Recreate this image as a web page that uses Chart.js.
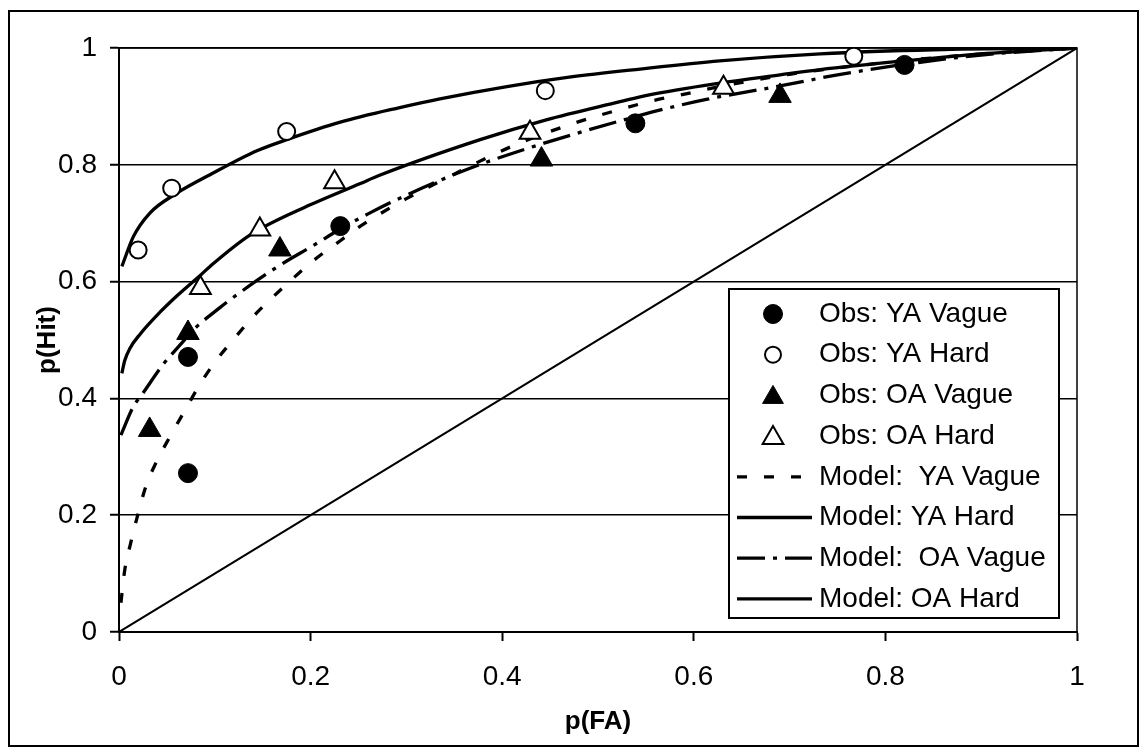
<!DOCTYPE html>
<html>
<head>
<meta charset="utf-8">
<script src="https://cdn.jsdelivr.net/npm/chart.js@4/dist/chart.umd.min.js"></script>
<style>
    html, body { margin: 0; padding: 0; background: #fff; }
    #wrap { position: relative; width: 1141px; height: 750px; }
    #frame { position: absolute; left: 8px; top: 10px; width: 1127px; height: 733px;
             border: 2px solid #000; pointer-events: none; }
</style>
</head>
<body>
<div id="wrap">
    <canvas id="chart"></canvas>
    <div id="frame"></div>
</div>
<script>
// Tick values
const xTicks = [0, 0.2, 0.4, 0.6, 0.8, 1];
const yTicks = [0, 0.2, 0.4, 0.6, 0.8, 1];

// Observed points [p(FA), p(Hit)]
const obsYAVague = [[0.072, 0.272], [0.072, 0.471], [0.231, 0.695], [0.539, 0.871], [0.820, 0.971]];
const obsYAHard  = [[0.020, 0.654], [0.055, 0.760], [0.175, 0.857], [0.445, 0.927], [0.767, 0.986]];
const obsOAVague = [[0.032, 0.346], [0.072, 0.512], [0.168, 0.655], [0.441, 0.809], [0.690, 0.918]];
const obsOAHard  = [[0.085, 0.589], [0.147, 0.689], [0.225, 0.770], [0.429, 0.855], [0.631, 0.932]];

// Model curves
const modelYAVague = [[0.002, 0.05], [0.006, 0.106], [0.012, 0.151], [0.020, 0.203], [0.028, 0.249],
    [0.039, 0.291], [0.053, 0.334], [0.069, 0.380], [0.083, 0.420], [0.100, 0.462], [0.119, 0.500],
    [0.140, 0.540], [0.161, 0.574], [0.182, 0.606], [0.203, 0.636], [0.231, 0.670], [0.252, 0.695],
    [0.300, 0.742], [0.350, 0.784], [0.384, 0.812], [0.415, 0.835], [0.471, 0.869], [0.530, 0.898],
    [0.558, 0.910], [0.593, 0.922], [0.627, 0.934], [0.700, 0.955], [0.800, 0.975], [0.900, 0.990], [1, 1]];
const modelYAHard = [[0.003, 0.626], [0.015, 0.677], [0.032, 0.717], [0.060, 0.751], [0.095, 0.783],
    [0.144, 0.824], [0.175, 0.843], [0.231, 0.873], [0.293, 0.898], [0.335, 0.913], [0.405, 0.934],
    [0.470, 0.950], [0.544, 0.964], [0.627, 0.978], [0.732, 0.990], [0.850, 0.997], [1, 1]];
const modelOAVague = [[0.002, 0.337], [0.015, 0.386], [0.025, 0.409], [0.046, 0.458], [0.064, 0.492],
    [0.078, 0.518], [0.105, 0.555], [0.126, 0.581], [0.165, 0.625], [0.203, 0.662], [0.231, 0.690],
    [0.260, 0.716], [0.300, 0.748], [0.363, 0.792], [0.415, 0.822], [0.474, 0.852], [0.527, 0.877],
    [0.558, 0.891], [0.613, 0.912], [0.690, 0.935], [0.750, 0.954], [0.820, 0.972], [0.900, 0.988], [1, 1]];
const modelOAHard = [[0.003, 0.443], [0.006, 0.465], [0.0115, 0.486], [0.022, 0.510], [0.043, 0.548],
    [0.060, 0.575], [0.085, 0.611], [0.095, 0.626], [0.137, 0.680], [0.199, 0.731], [0.252, 0.768],
    [0.272, 0.782], [0.377, 0.843], [0.446, 0.877], [0.523, 0.908], [0.551, 0.919], [0.627, 0.940],
    [0.690, 0.954], [0.732, 0.963], [0.820, 0.978], [0.900, 0.990], [1, 1]];
const chanceLine = [[0, 0], [1, 1]];

const FONT = '"Liberation Sans", Arial, sans-serif';

function pts(arr) {
    return arr.map(p => ({ x: p[0], y: p[1] }));
}

function obsSet(label, arr, style, filled, radius) {
    return {
        label: label,
        data: pts(arr),
        showLine: false,
        pointStyle: style,
        pointRadius: radius,
        pointBackgroundColor: filled ? '#000' : '#fff',
        pointBorderColor: '#000',
        pointBorderWidth: filled ? 1 : 2,
        order: 1
    };
}

function modelSet(label, arr, dash, width) {
    return {
        label: label,
        data: pts(arr),
        showLine: true,
        borderColor: '#000',
        borderWidth: width,
        borderDash: dash,
        pointRadius: 0,
        cubicInterpolationMode: 'monotone',
        order: 2
    };
}

const datasets = [
    obsSet('Obs: YA Vague', obsYAVague, 'circle', true, 9.5),
    obsSet('Obs: YA Hard', obsYAHard, 'circle', false, 8.5),
    obsSet('Obs: OA Vague', obsOAVague, 'triangle', true, 13),
    obsSet('Obs: OA Hard', obsOAHard, 'triangle', false, 12),
    modelSet('Model:  YA Vague', modelYAVague, [10, 17], 3.3),
    modelSet('Model: YA Hard', modelYAHard, [], 3.3),
    modelSet('Model:  OA Vague', modelOAVague, [28, 8, 4, 8], 3.3),
    modelSet('Model: OA Hard', modelOAHard, [], 3.3),
    Object.assign(modelSet('', chanceLine, [], 2), { cubicInterpolationMode: 'default', order: 3 })
];

// Box around plot area (right edge shows)
const plotBorder = {
    id: 'plotBorder',
    beforeDatasetsDraw(chart) {
        const { ctx, chartArea: a } = chart;
        ctx.save();
        ctx.strokeStyle = '#000';
        ctx.lineWidth = 1.5;
        ctx.strokeRect(a.left, a.top, a.right - a.left, a.bottom - a.top);
        ctx.restore();
    }
};

// Legend box drawn inside the plot area
const insideLegend = {
    id: 'insideLegend',
    afterDatasetsDraw(chart) {
        const { ctx, chartArea: a } = chart;
        const bx = a.right - 348, by = a.top + 241, bw = 330, bh = 329;
        ctx.save();
        ctx.fillStyle = '#fff';
        ctx.fillRect(bx, by, bw, bh);
        ctx.strokeStyle = '#000';
        ctx.lineWidth = 2;
        ctx.strokeRect(bx, by, bw, bh);

        const items = chart.data.datasets.filter(d => d.label);
        items.forEach((d, i) => {
            const y = by + 25 + i * 40.7;
            ctx.save();
            if (d.showLine) {
                ctx.strokeStyle = '#000';
                ctx.lineWidth = d.borderWidth;
                ctx.setLineDash(d.borderDash);
                ctx.beginPath();
                ctx.moveTo(bx + 8, y);
                ctx.lineTo(bx + 83, y);
                ctx.stroke();
            } else {
                ctx.fillStyle = d.pointBackgroundColor;
                ctx.strokeStyle = d.pointBorderColor;
                ctx.lineWidth = d.pointBorderWidth;
                const r = d.pointStyle === 'triangle' ? 12 : (d.pointBackgroundColor === '#000' ? 9.5 : 8);
                Chart.helpers.drawPoint(ctx, {
                    pointStyle: d.pointStyle, radius: r, rotation: 0, borderWidth: d.pointBorderWidth
                }, bx + 44, d.pointStyle === 'triangle' ? y + 2 : y);
            }
            ctx.restore();
            ctx.fillStyle = '#000';
            ctx.font = '28px ' + FONT;
            ctx.textBaseline = 'middle';
            ctx.textAlign = 'left';
            ctx.fillText(d.label, bx + 90, y);
        });
        ctx.restore();
    }
};

new Chart(document.getElementById('chart'), {
    type: 'scatter',
    data: { datasets: datasets },
    options: {
        responsive: true,
        maintainAspectRatio: false,
        animation: false,
        layout: { padding: { left: 0, top: 48, right: 64, bottom: 0 } },
        plugins: {
            legend: { display: false },
            tooltip: { enabled: false }
        },
        scales: {
            x: {
                type: 'linear',
                min: 0,
                max: 1,
                afterFit: s => { s.height = 118; },
                afterBuildTicks: s => { s.ticks = xTicks.map(v => ({ value: v })); },
                grid: { drawOnChartArea: false, drawTicks: true, tickLength: 9, tickWidth: 2, tickColor: '#000' },
                border: { display: true, color: '#000', width: 2 },
                ticks: { color: '#000', font: { family: FONT, size: 28 }, padding: 19, maxRotation: 0,
                         callback: v => String(v) },
                title: {
                    display: true, text: 'p(FA)', color: '#000',
                    font: { family: FONT, size: 26, weight: 'bold' },
                    padding: { top: 0, bottom: 13 }
                }
            },
            y: {
                type: 'linear',
                min: 0,
                max: 1,
                afterFit: s => { s.width = 119; },
                afterBuildTicks: s => { s.ticks = yTicks.map(v => ({ value: v })); },
                grid: { color: '#000', lineWidth: 1.5, drawTicks: true, tickLength: 9, tickWidth: 2, tickColor: '#000' },
                border: { display: true, color: '#000', width: 2 },
                ticks: { color: '#000', font: { family: FONT, size: 28 }, padding: 13,
                         callback: v => String(v) },
                title: {
                    display: true, text: 'p(Hit)', color: '#000',
                    font: { family: FONT, size: 26, weight: 'bold' },
                    padding: { top: 32, bottom: 0 }
                }
            }
        }
    },
    plugins: [plotBorder, insideLegend]
});
</script>
</body>
</html>
